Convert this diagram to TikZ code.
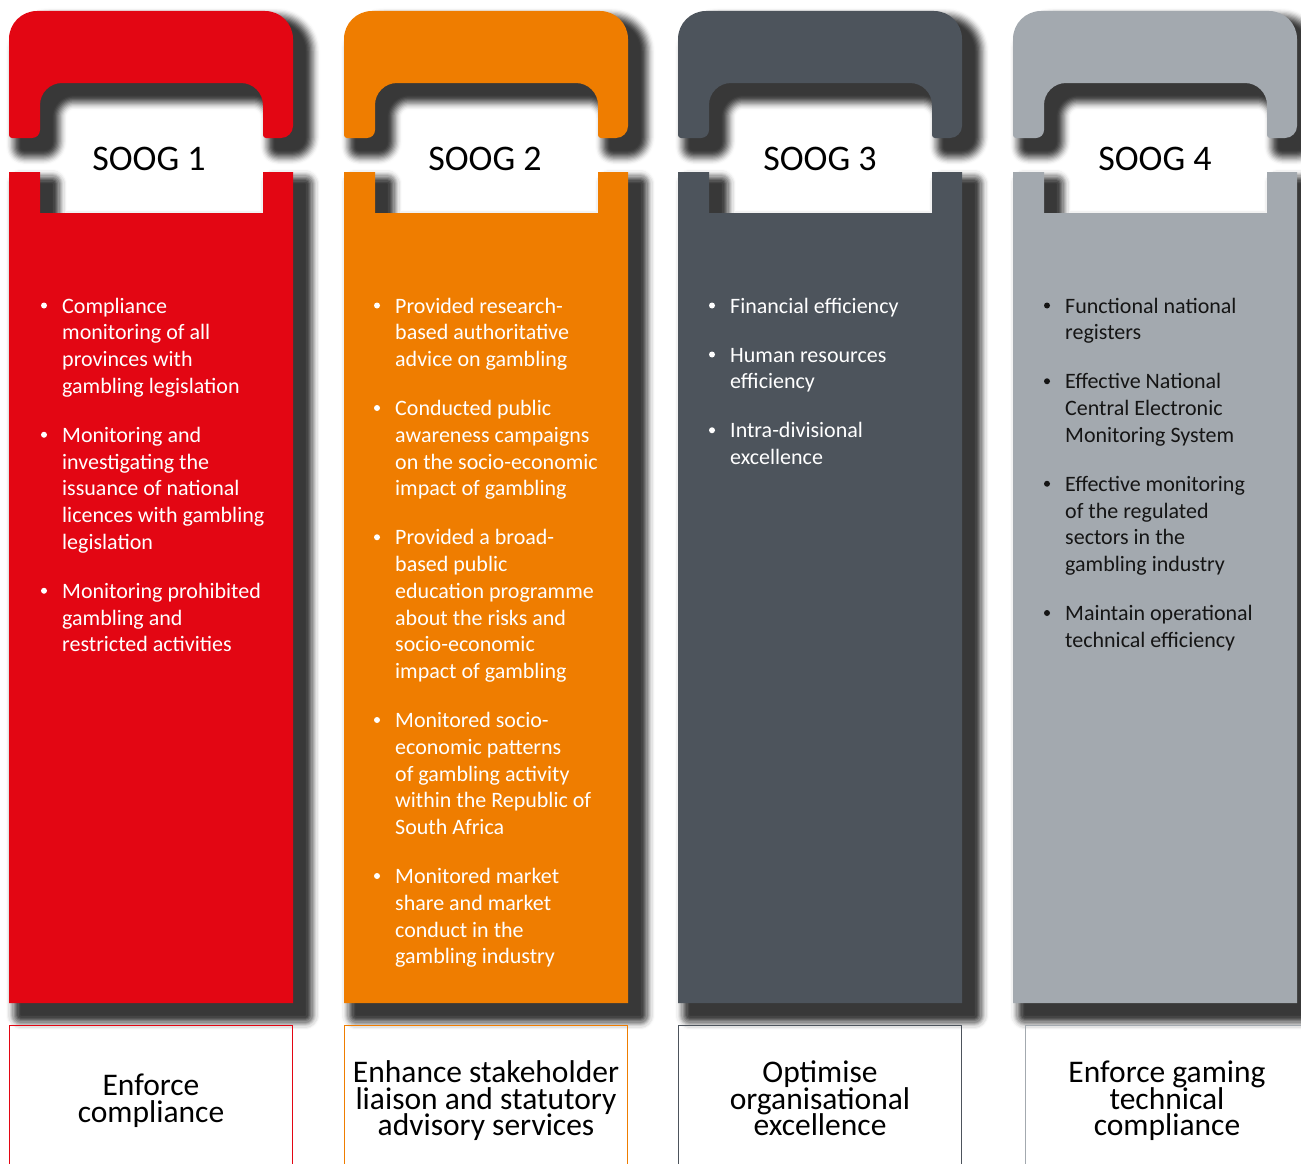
\documentclass[tikz,border=0pt]{standalone}
\usepackage{fontspec}
\setmainfont{Carlito}
\definecolor{cred}{HTML}{E30613}
\definecolor{corange}{HTML}{EF7D00}
\definecolor{cdark}{HTML}{4D545C}
\definecolor{clight}{HTML}{A3A9AF}
\definecolor{ctext}{HTML}{151515}
\tikzset{
  itemtext/.style={anchor=base west, inner sep=0pt, font=\fontsize{22}{26}\selectfont},
  bul/.style={circle, inner sep=0pt, minimum size=6pt, draw=none},
  soog/.style={anchor=base, inner sep=0pt, font=\fontsize{36}{40}\selectfont, text=black},
  goal/.style={anchor=base, inner sep=0pt, text height=20pt, text depth=5pt,
    font=\fontsize{31.5}{31}\selectfont, text=black},
  goalbox/.style={line width=1pt, fill=none}
}
\newcommand\colhandle[1]{(#1,-135) -- (#1,-39) arc[start angle=180,end angle=90,radius=28]
  -- ({#1+256},-11) arc[start angle=90,end angle=0,radius=28]
  -- ({#1+284},-126) arc[start angle=0,end angle=-90,radius=12]
  -- ({#1+257},-138) arc[start angle=270,end angle=180,radius=3]
  -- ({#1+254},-105) arc[start angle=0,end angle=90,radius=22]
  -- ({#1+53},-83) arc[start angle=90,end angle=180,radius=22]
  -- ({#1+31},-130) arc[start angle=0,end angle=-90,radius=8]
  -- ({#1+3},-138) arc[start angle=270,end angle=180,radius=3] -- cycle}
\newcommand\colbody[1]{(#1,-172) -- ({#1+31},-172) -- ({#1+31},-213) -- ({#1+254},-213)
  -- ({#1+254},-172) -- ({#1+284},-172) -- ({#1+284},-1003) -- (#1,-1003) -- cycle}
\newcommand\shadowof[1]{%
  \foreach \j in {0,...,11}{%
    \pgfmathsetmacro\sT{(\j+1)/13}%
    \pgfmathsetmacro\pp{78*\sT*\sT*(3-2*\sT)}%
    \pgfmathsetmacro\lw{30*(1-\j/12)}%
    \filldraw[shift={(12,-12)}, draw=black!\pp, fill=black!\pp, line width=\lw pt, line join=round] #1;
  }%
  \fill[shift={(12,-12)}, black!78] #1;%
}
\newcount\lnum
\def\colx{9}\def\cury{313}\def\tcol{white}\def\tx{53}
\newcommand\startcol[3]{\def\colx{#1}\def\cury{313}\def\tcol{#2}\def\tx{#3}}
\newcommand\bl[1]{\global\advance\lnum by 1
  \node[itemtext, text=\tcol] (L\the\lnum) at ({\colx+\tx},-\cury) {#1};
  \pgfmathsetmacro\cury{\cury+26.75}}
\newcommand\bb{\global\advance\lnum by 1
  \node[bul, fill=\tcol] (B\the\lnum) at ({\colx+\tx-18},{-\cury+7.5}) {};}
\newcommand\bgap{\pgfmathsetmacro\cury{\cury+22.25}}
\begin{document}
\begin{tikzpicture}[x=1pt,y=1pt]
\useasboundingbox (0,0) rectangle (1301,-1164);
\clip (0,0) rectangle (1301,-1164);
\fill[white] (0,0) rectangle (1301,-1164);
% shadows
\foreach \xx in {9,344,678,1013}{
  \shadowof{\colhandle{\xx}}
  \shadowof{\colbody{\xx}}
}
% columns
\foreach \xx/\cc in {9/cred,344/corange,678/cdark,1013/clight}{
  \fill[\cc] \colhandle{\xx};
  \fill[\cc] \colbody{\xx};
}
% titles
\node[soog] (s1) at (149,-170) {SOOG 1};
\node[soog] (s2) at (485,-170) {SOOG 2};
\node[soog] (s3) at (820,-170) {SOOG 3};
\node[soog] (s4) at (1155,-170) {SOOG 4};
% column 1
\startcol{9}{white}{53}
\bb\bl{Compliance}\bl{monitoring of all}\bl{provinces with}\bl{gambling legislation}\bgap
\bb\bl{Monitoring and}\bl{investigating the}\bl{issuance of national}\bl{licences with gambling}\bl{legislation}\bgap
\bb\bl{Monitoring prohibited}\bl{gambling and}\bl{restricted activities}
% column 2
\startcol{344}{white}{51}
\bb\bl{Provided research-}\bl{based authoritative}\bl{advice on gambling}\bgap
\bb\bl{Conducted public}\bl{awareness campaigns}\bl{on the socio-economic}\bl{impact of gambling}\bgap
\bb\bl{Provided a broad-}\bl{based public}\bl{education programme}\bl{about the risks and}\bl{socio-economic}\bl{impact of gambling}\bgap
\bb\bl{Monitored socio-}\bl{economic patterns}\bl{of gambling activity}\bl{within the Republic of}\bl{South Africa}\bgap
\bb\bl{Monitored market}\bl{share and market}\bl{conduct in the}\bl{gambling industry}
% column 3
\startcol{678}{white}{52}
\bb\bl{Financial efficiency}\bgap
\bb\bl{Human resources}\bl{efficiency}\bgap
\bb\bl{Intra-divisional}\bl{excellence}
% column 4
\startcol{1013}{ctext}{52}
\bb\bl{Functional national}\bl{registers}\bgap
\bb\bl{Effective National}\bl{Central Electronic}\bl{Monitoring System}\bgap
\bb\bl{Effective monitoring}\bl{of the regulated}\bl{sectors in the}\bl{gambling industry}\bgap
\bb\bl{Maintain operational}\bl{technical efficiency}
% goal boxes
\draw[goalbox, cred] (9.5,-1025.5) rectangle (292.5,-1180);
\draw[goalbox, corange] (344.5,-1025.5) rectangle (627.5,-1180);
\draw[goalbox, cdark] (678.5,-1025.5) rectangle (961.5,-1180);
\draw[goalbox, clight] (1025.5,-1025.5) rectangle (1310,-1180);
\node[goal] (g1a) at (151,-1095) {Enforce};
\node[goal] (g1b) at (151,-1122) {compliance};
\node[goal] (g2a) at (486,-1082) {Enhance stakeholder};
\node[goal] (g2b) at (486,-1109) {liaison and statutory};
\node[goal] (g2c) at (486,-1135) {advisory services};
\node[goal] (g3a) at (820,-1082) {Optimise};
\node[goal] (g3b) at (820,-1109) {organisational};
\node[goal] (g3c) at (820,-1135) {excellence};
\node[goal] (g4a) at (1167,-1082) {Enforce gaming};
\node[goal] (g4b) at (1167,-1109) {technical};
\node[goal] (g4c) at (1167,-1135) {compliance};
\end{tikzpicture}
\end{document}
